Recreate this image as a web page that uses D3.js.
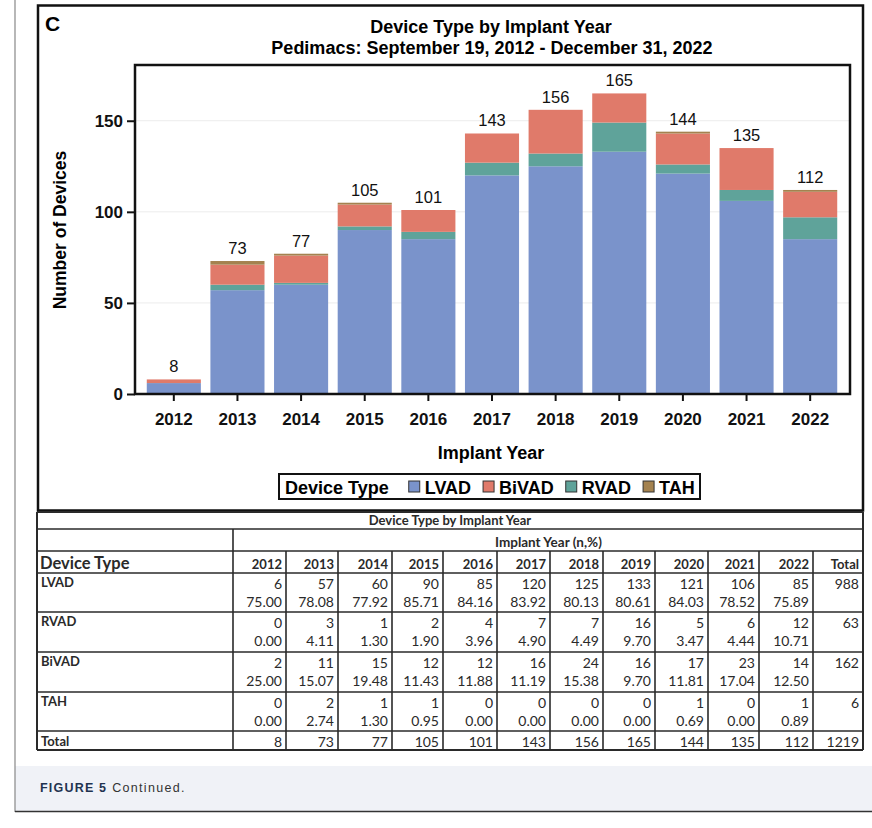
<!DOCTYPE html>
<html>
<head>
<meta charset="utf-8">
<script src="https://cdn.jsdelivr.net/npm/d3@7"></script>
<style>
  html, body { margin: 0; padding: 0; background: #fff; }
  svg { display: block; }
</style>
</head>
<body>
<svg id="fig" width="872" height="828"></svg>
<script>
// Implant years and device counts per year
const years = ["2012","2013","2014","2015","2016","2017","2018","2019","2020","2021","2022"];
const lvad  = [6, 57, 60, 90, 85, 120, 125, 133, 121, 106, 85];
const rvad  = [0, 3, 1, 2, 4, 7, 7, 16, 5, 6, 12];
const bivad = [2, 11, 15, 12, 12, 16, 24, 16, 17, 23, 14];
const tah   = [0, 2, 1, 1, 0, 0, 0, 0, 1, 0, 1];
const yearTotals = [8, 73, 77, 105, 101, 143, 156, 165, 144, 135, 112];

// Row percentages as published in the table
const lvadPct  = ["75.00","78.08","77.92","85.71","84.16","83.92","80.13","80.61","84.03","78.52","75.89"];
const rvadPct  = ["0.00","4.11","1.30","1.90","3.96","4.90","4.49","9.70","3.47","4.44","10.71"];
const bivadPct = ["25.00","15.07","19.48","11.43","11.88","11.19","15.38","9.70","11.81","17.04","12.50"];
const tahPct   = ["0.00","2.74","1.30","0.95","0.00","0.00","0.00","0.00","0.69","0.00","0.89"];
const rowTotals = [988, 63, 162, 6];
const grandTotal = 1219;

const yTicks = [0, 50, 100, 150];
const legendOrder = ["LVAD", "BiVAD", "RVAD", "TAH"];
const stackOrder = ["LVAD", "RVAD", "BiVAD", "TAH"];
const colors = { LVAD: "#7a93cb", BiVAD: "#e07a6a", RVAD: "#5fa39a", TAH: "#a4824f" };

const svg = d3.select("#fig");
const chartFont = "'Liberation Sans', Arial, sans-serif";
const tableFont = "Lato, 'Open Sans', sans-serif";

// ---- page frame and caption strip ----
svg.append("rect").attr("x", 15).attr("y", 766).attr("width", 857).attr("height", 45)
  .attr("fill", "#f0f2f7");
svg.append("line").attr("x1", 15).attr("x2", 15).attr("y1", 0).attr("y2", 812)
  .attr("stroke", "#888").attr("stroke-width", 1.2);
svg.append("line").attr("x1", 15).attr("x2", 872).attr("y1", 811.5).attr("y2", 811.5)
  .attr("stroke", "#333").attr("stroke-width", 1.6);
const cap = svg.append("text").attr("x", 40).attr("y", 791.5)
  .attr("font-family", "'Liberation Sans', Arial, sans-serif").attr("font-size", 12.5);
cap.append("tspan").attr("font-weight", "bold").attr("fill", "#1f3350")
  .attr("letter-spacing", 1.2).text("FIGURE 5");
cap.append("tspan").attr("dx", 5).attr("fill", "#333").attr("letter-spacing", 1.3).text("Continued.");

// ---- chart panel ----
svg.append("rect").attr("x", 38).attr("y", 5.5).attr("width", 825).attr("height", 505)
  .attr("fill", "#fff").attr("stroke", "#111").attr("stroke-width", 2.5);
svg.append("text").attr("x", 45).attr("y", 31).attr("font-family", chartFont)
  .attr("font-weight", "bold").attr("font-size", 21).text("C");

svg.append("text").attr("x", 491).attr("y", 33).attr("text-anchor", "middle")
  .attr("font-family", chartFont).attr("font-weight", "bold").attr("font-size", 18)
  .text("Device Type by Implant Year");
svg.append("text").attr("x", 492).attr("y", 54).attr("text-anchor", "middle")
  .attr("font-family", chartFont).attr("font-weight", "bold").attr("font-size", 18)
  .text("Pedimacs: September 19, 2012 - December 31, 2022");

const plot = { left: 135, right: 850, top: 65, bottom: 394 };
const x = d3.scaleBand().domain(years).range([142, 842]).paddingInner(0.15).paddingOuter(0.075);
const y = d3.scaleLinear().domain([0, 180.6]).range([plot.bottom, plot.top]);

// gridlines
svg.append("g").selectAll("line").data(yTicks.filter(d => d > 0)).join("line")
  .attr("x1", plot.left).attr("x2", plot.right)
  .attr("y1", d => y(d)).attr("y2", d => y(d))
  .attr("stroke", "#ececec").attr("stroke-width", 1);

// stacked bars
const rows = years.map((yr, i) => ({ year: yr, LVAD: lvad[i], RVAD: rvad[i], BiVAD: bivad[i], TAH: tah[i], total: yearTotals[i] }));
const series = d3.stack().keys(stackOrder)(rows);
svg.append("g").selectAll("g").data(series).join("g")
  .attr("fill", s => colors[s.key])
  .selectAll("rect").data(s => s).join("rect")
  .attr("x", d => x(d.data.year))
  .attr("width", x.bandwidth())
  .attr("y", d => y(d[1]))
  .attr("height", d => y(d[0]) - y(d[1]));

// total labels above bars
svg.append("g").selectAll("text").data(rows).join("text")
  .attr("x", d => x(d.year) + x.bandwidth() / 2)
  .attr("y", d => y(d.total) - 7)
  .attr("text-anchor", "middle").attr("font-family", chartFont).attr("font-size", 16.5)
  .attr("fill", "#111").text(d => d.total);

// plot frame
svg.append("rect").attr("x", plot.left).attr("y", plot.top)
  .attr("width", plot.right - plot.left).attr("height", plot.bottom - plot.top)
  .attr("fill", "none").attr("stroke", "#111").attr("stroke-width", 2.5);

// axes
const yAxis = svg.append("g").attr("transform", `translate(${plot.left},0)`)
  .call(d3.axisLeft(y).tickValues(yTicks).tickSize(8).tickPadding(4));
const xAxis = svg.append("g").attr("transform", `translate(0,${plot.bottom})`)
  .call(d3.axisBottom(x).tickSize(7).tickPadding(12));
[yAxis, xAxis].forEach(a => {
  a.select(".domain").remove();
  a.selectAll(".tick line").attr("stroke", "#111").attr("stroke-width", 2);
  a.selectAll(".tick text").attr("font-family", chartFont).attr("font-weight", "bold")
    .attr("font-size", 17).attr("fill", "#111");
});

svg.append("text").attr("transform", "translate(66,230) rotate(-90)")
  .attr("text-anchor", "middle").attr("font-family", chartFont).attr("font-weight", "bold")
  .attr("font-size", 17.5).text("Number of Devices");
svg.append("text").attr("x", 491).attr("y", 458.5).attr("text-anchor", "middle")
  .attr("font-family", chartFont).attr("font-weight", "bold").attr("font-size", 18)
  .text("Implant Year");

// legend
const lg = svg.append("g");
lg.append("rect").attr("x", 279).attr("y", 474).attr("width", 421).attr("height", 25)
  .attr("fill", "#fff").attr("stroke", "#111").attr("stroke-width", 2);
const lgTitle = lg.append("text").attr("x", 285).attr("y", 493.5).attr("font-family", chartFont)
  .attr("font-weight", "bold").attr("font-size", 18).text("Device Type");
let lx = 285 + lgTitle.node().getComputedTextLength() + 20;
legendOrder.forEach(k => {
  lg.append("rect").attr("x", lx).attr("y", 481).attr("width", 11).attr("height", 11)
    .attr("fill", colors[k]).attr("stroke", "#333").attr("stroke-width", 1);
  const t = lg.append("text").attr("x", lx + 16).attr("y", 493.5).attr("font-family", chartFont)
    .attr("font-weight", "bold").attr("font-size", 18).text(k);
  lx += 16 + t.node().getComputedTextLength() + 12;
});

// ---- summary table ----
const tb = svg.append("g");
const tLeft = 37, tRight = 863;
const colEdges = [233, 286, 338, 392, 443, 497, 550, 603, 655, 708, 759, 813, 863];
const rowEdges = [512, 529, 551, 573, 612, 652, 692, 731, 750];
const lineC = "#2a2a2a";

tb.append("rect").attr("x", tLeft).attr("y", rowEdges[0]).attr("width", tRight - tLeft)
  .attr("height", rowEdges[8] - rowEdges[0]).attr("fill", "#fff");
// horizontal rules
rowEdges.forEach((ry, i) => {
  tb.append("line").attr("x1", tLeft).attr("x2", tRight).attr("y1", ry).attr("y2", ry)
    .attr("stroke", lineC).attr("stroke-width", (i === 0 || i === 8) ? 2 : 1.6);
});
// vertical rules
tb.append("line").attr("x1", tLeft).attr("x2", tLeft).attr("y1", rowEdges[0]).attr("y2", rowEdges[8])
  .attr("stroke", lineC).attr("stroke-width", 2);
tb.append("line").attr("x1", tRight).attr("x2", tRight).attr("y1", rowEdges[0]).attr("y2", rowEdges[8])
  .attr("stroke", lineC).attr("stroke-width", 2);
tb.append("line").attr("x1", colEdges[0]).attr("x2", colEdges[0]).attr("y1", rowEdges[1]).attr("y2", rowEdges[8])
  .attr("stroke", lineC).attr("stroke-width", 1.6);
colEdges.slice(1, -1).forEach(cx => {
  tb.append("line").attr("x1", cx).attr("x2", cx).attr("y1", rowEdges[2]).attr("y2", rowEdges[8])
    .attr("stroke", lineC).attr("stroke-width", 1.6);
});

const tText = (tx, ty, s, opts = {}) => tb.append("text").attr("x", tx).attr("y", ty)
  .attr("font-family", tableFont).attr("font-size", opts.size || 14)
  .attr("font-weight", opts.bold ? "bold" : "normal")
  .attr("text-anchor", opts.anchor || "end").attr("fill", opts.fill || "#2a2a2a").text(s);

tText(450, 525, "Device Type by Implant Year", { bold: true, anchor: "middle", size: 13 });
tText(495, 547, "Implant Year (n,%)", { bold: true, anchor: "start", size: 13.5 });
tText(40, 569, "Device Type", { bold: true, anchor: "start", size: 16.5 });
const colHeads = years.concat(["Total"]);
colHeads.forEach((h, i) => tText(colEdges[i + 1] - 4, 569, h, { bold: true, size: 13 }));

const tableRows = [
  { name: "LVAD", n: lvad, p: lvadPct },
  { name: "RVAD", n: rvad, p: rvadPct },
  { name: "BiVAD", n: bivad, p: bivadPct },
  { name: "TAH", n: tah, p: tahPct }
];
tableRows.forEach((r, ri) => {
  const top = rowEdges[3 + ri];
  tText(41, top + 14, r.name, { bold: true, anchor: "start", size: 13 });
  r.n.forEach((v, i) => tText(colEdges[i + 1] - 4, top + 15.5, v));
  r.p.forEach((v, i) => tText(colEdges[i + 1] - 4, top + 33.5, v));
  tText(colEdges[12] - 4, top + 15.5, rowTotals[ri]);
});
tText(41, 746, "Total", { bold: true, anchor: "start", size: 13 });
yearTotals.forEach((v, i) => tText(colEdges[i + 1] - 4, 746.5, v));
tText(colEdges[12] - 4, 746.5, grandTotal);
</script>
</body>
</html>
